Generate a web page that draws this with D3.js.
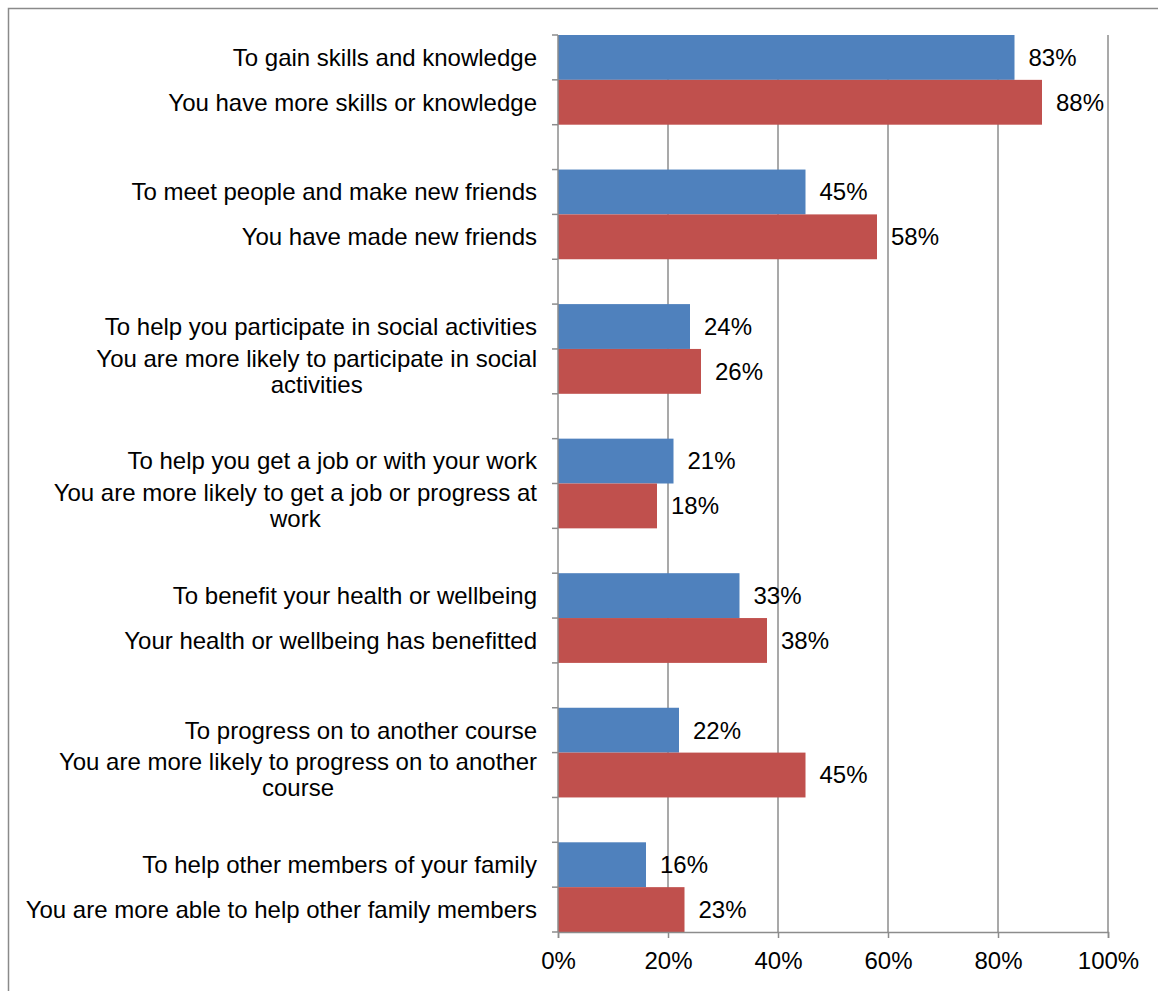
<!DOCTYPE html>
<html>
<head>
<meta charset="utf-8">
<script src="https://cdn.jsdelivr.net/npm/d3@7/dist/d3.min.js"></script>
<style>
  html, body { margin: 0; padding: 0; background: #ffffff; }
  svg { display: block; }
  text { font-family: "Liberation Sans", Arial, sans-serif; fill: #000; }
</style>
</head>
<body>
<svg id="chart" width="1158" height="991"></svg>
<script>
// Reasons for joining a course (blue) and the benefits reported afterwards (red)
const motiveLabels = [
  "To gain skills and knowledge",
  "To meet people and make new friends",
  "To help you participate in social activities",
  "To help you get a job or with your work",
  "To benefit your health or wellbeing",
  "To progress on to another course",
  "To help other members of your family"
];
const outcomeLabels = [
  "You have more skills or knowledge",
  "You have made new friends",
  "You are more likely to participate in social\nactivities",
  "You are more likely to get a job or progress at\nwork",
  "Your health or wellbeing has benefitted",
  "You are more likely to progress on to another\ncourse",
  "You are more able to help other family members"
];
const motiveValues = [83, 45, 24, 21, 33, 22, 16];
const outcomeValues = [88, 58, 26, 18, 38, 45, 23];
const xTickValues = [0, 20, 40, 60, 80, 100];

const motiveColor = "#4F81BD";
const outcomeColor = "#C0504D";
const gridColor = "#8c8c8c";

// One row per bar, with an empty row between each pair
const rows = [];
motiveLabels.forEach((m, i) => {
  rows.push({ key: "m" + i, label: m, value: motiveValues[i], color: motiveColor });
  rows.push({ key: "o" + i, label: outcomeLabels[i], value: outcomeValues[i], color: outcomeColor });
  if (i < motiveLabels.length - 1) rows.push({ key: "gap" + i, label: null, value: null });
});

const svg = d3.select("#chart");
const plot = { left: 558, right: 1108, top: 35, bottom: 932 };

const x = d3.scaleLinear().domain([0, 100]).range([plot.left, plot.right]);
const y = d3.scaleBand().domain(rows.map(r => r.key)).range([plot.top, plot.bottom]).padding(0);

// Outer frame
svg.append("rect")
  .attr("x", 8.5).attr("y", 8.5)
  .attr("width", 1200).attr("height", 1100)
  .attr("fill", "none").attr("stroke", "#8a8a8a").attr("stroke-width", 1.5);

// Vertical gridlines
svg.append("g").selectAll("line")
  .data(xTickValues.filter(v => v > 0))
  .join("line")
  .attr("x1", d => x(d)).attr("x2", d => x(d))
  .attr("y1", plot.top).attr("y2", plot.bottom)
  .attr("stroke", gridColor).attr("stroke-width", 1.5);

// Bars
const bars = rows.filter(r => r.value !== null);
svg.append("g").selectAll("rect")
  .data(bars)
  .join("rect")
  .attr("x", x(0))
  .attr("y", d => y(d.key))
  .attr("width", d => x(d.value) - x(0))
  .attr("height", y.bandwidth())
  .attr("fill", d => d.color);

// Value labels
svg.append("g").selectAll("text")
  .data(bars)
  .join("text")
  .attr("x", d => x(d.value) + 14)
  .attr("y", d => y(d.key) + y.bandwidth() / 2)
  .attr("dy", "0.35em")
  .attr("font-size", 24)
  .text(d => d.value + "%");

// Bottom axis
const xAxis = d3.axisBottom(x)
  .tickValues(xTickValues)
  .tickFormat(d => d + "%")
  .tickSize(6)
  .tickPadding(14);
const gx = svg.append("g")
  .attr("transform", `translate(0,${plot.bottom})`)
  .call(xAxis);
gx.select(".domain").attr("stroke", gridColor).attr("stroke-width", 1.5);
gx.selectAll(".tick line").attr("stroke", gridColor).attr("stroke-width", 1.5);
gx.selectAll(".tick text")
  .attr("font-size", 24)
  .attr("font-family", "Liberation Sans, Arial, sans-serif")
  .attr("fill", "#000");

// Left category axis: ticks at every row boundary
const boundaries = rows.map(r => y(r.key)).concat([y(rows[rows.length - 1].key) + y.bandwidth()]);
svg.append("line")
  .attr("x1", plot.left).attr("x2", plot.left)
  .attr("y1", plot.top).attr("y2", plot.bottom)
  .attr("stroke", gridColor).attr("stroke-width", 1.5);
svg.append("g").selectAll("line")
  .data(boundaries)
  .join("line")
  .attr("x1", plot.left - 6).attr("x2", plot.left)
  .attr("y1", d => d).attr("y2", d => d)
  .attr("stroke", gridColor).attr("stroke-width", 1.5);

// Category labels, right-aligned block with centred wrapped lines
const labelRight = 537;
const lineGap = 26;
const labelGroup = svg.append("g");
rows.filter(r => r.label).forEach(r => {
  const lines = r.label.split("\n");
  const cy = y(r.key) + y.bandwidth() / 2;
  const t = labelGroup.append("text").attr("font-size", 24);
  if (lines.length === 1) {
    t.attr("x", labelRight).attr("y", cy).attr("dy", "0.35em")
      .attr("text-anchor", "end").text(lines[0]);
  } else {
    // measure widest line to centre the others under it
    const probe = labelGroup.append("text").attr("font-size", 24).text(lines[0]);
    const w = d3.max(lines, l => { probe.text(l); return probe.node().getComputedTextLength(); });
    probe.remove();
    const cx = labelRight - w / 2;
    t.attr("text-anchor", "middle");
    lines.forEach((l, k) => {
      t.append("tspan")
        .attr("x", cx)
        .attr("y", cy + (k - (lines.length - 1) / 2) * lineGap)
        .attr("dy", "0.35em")
        .text(l);
    });
  }
});
</script>
</body>
</html>
